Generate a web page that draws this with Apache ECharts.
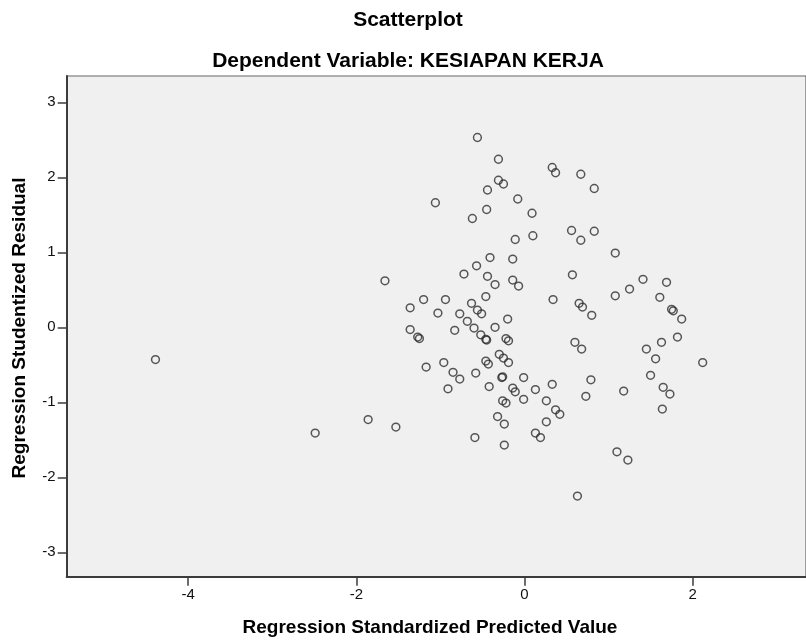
<!DOCTYPE html>
<html>
<head>
<meta charset="utf-8">
<script src="https://cdn.jsdelivr.net/npm/echarts@6/dist/echarts.min.js"></script>
<style>
html,body{margin:0;padding:0;background:#fff;}
#chart{width:806px;height:643px;}
</style>
</head>
<body>
<div id="chart"></div>
<script>
// Regression Standardized Predicted Value (x) and Regression Studentized Residual (y)
const xValues = [
  -4.39, -2.49, -1.86, -1.53, -1.66,
  -0.56, -0.31, -0.31, -0.25, -0.44, -1.06, -0.08, -0.45, -0.62, 0.09, 0.10, -0.11, 0.33, 0.37,
  0.67, 0.83, 0.56, 0.67, 0.83, 1.08,
  -0.41, -0.14, -0.57, -0.72, -0.44, -0.35, -0.14, -0.07, -0.46, -1.20, -0.94, -1.36, -1.03, -0.77,
  -0.63, -0.56, -0.51, -0.68, -0.60, -0.83, -0.52, -0.46, -0.45, -0.35, -0.20, -0.22, -0.19, -1.36,
  -1.27, -1.25, -1.17, -0.96, -0.46, -0.43, -0.30, -0.25, -0.19, 0.34,
  -0.91, -0.85, -0.77, -0.58, -0.42, -0.27, -0.26, -0.14, -0.11, -0.01, -0.01, -0.26, -0.22, 0.13,
  0.26, 0.33, 0.37, 0.42, 0.26, 0.13, 0.19, -0.32, -0.24, -0.59, -0.24,
  0.79, 0.73, 1.18, 1.50, 1.65, 1.73, 1.64, 1.10, 1.23, 0.63,
  0.57, 0.65, 0.69, 0.80, 1.08, 1.25, 1.41, 1.69, 1.61, 1.75, 1.77, 1.87, 1.82, 1.63, 1.45, 1.56,
  0.60, 0.68, 2.12
];
const yValues = [
  -0.43, -1.41, -1.23, -1.33, 0.62,
  2.53, 2.24, 1.96, 1.91, 1.83, 1.66, 1.71, 1.57, 1.45, 1.52, 1.22, 1.17, 2.13, 2.06,
  2.04, 1.85, 1.29, 1.16, 1.28, 0.99,
  0.93, 0.91, 0.82, 0.71, 0.68, 0.57, 0.63, 0.55, 0.41, 0.37, 0.37, 0.26, 0.19, 0.18,
  0.32, 0.23, 0.18, 0.08, -0.01, -0.04, -0.10, -0.16, -0.17, 0.00, 0.11, -0.15, -0.18, -0.03,
  -0.13, -0.15, -0.53, -0.47, -0.45, -0.49, -0.36, -0.41, -0.47, 0.37,
  -0.82, -0.60, -0.69, -0.61, -0.79, -0.67, -0.66, -0.81, -0.86, -0.67, -0.96, -0.98, -1.01, -0.83,
  -0.98, -0.76, -1.10, -1.16, -1.26, -1.41, -1.47, -1.19, -1.29, -1.47, -1.57,
  -0.70, -0.92, -0.85, -0.64, -0.80, -0.89, -1.09, -1.66, -1.77, -2.25,
  0.70, 0.32, 0.27, 0.16, 0.42, 0.51, 0.64, 0.60, 0.40, 0.24, 0.22, 0.11, -0.13, -0.20, -0.29, -0.42,
  -0.20, -0.29, -0.47
];
const xTicks = [-4, -2, 0, 2];
const yTicks = [-3, -2, -1, 0, 1, 2, 3];

const titleText = 'Scatterplot';
const subtitleText = 'Dependent Variable: KESIAPAN KERJA';
const xName = 'Regression Standardized Predicted Value';
const yName = 'Regression Studentized Residual';

const points = xValues.map((x, i) => [x, yValues[i]]);

const FONT = '"Liberation Sans", Arial, sans-serif';
const chart = echarts.init(document.getElementById('chart'), null, {renderer: 'canvas'});
chart.setOption({
  animation: false,
  backgroundColor: '#ffffff',
  grid: {
    left: 66.7, top: 76, right: -1, bottom: 66.3,
    show: true, backgroundColor: '#F0F0F0', borderColor: '#666', borderWidth: 1.2,
    containLabel: false
  },
  xAxis: {
    type: 'value', min: -5.446, max: 3.349,
    axisLine: {show: true, onZero: false, lineStyle: {color: '#3c3c3c', width: 2}},
    axisTick: {show: true, length: 9, lineStyle: {color: '#3c3c3c', width: 1.5}, customValues: xTicks},
    axisLabel: {show: true, margin: 11, fontSize: 15, color: '#111', fontFamily: FONT, customValues: xTicks},
    splitLine: {show: false}
  },
  yAxis: {
    type: 'value', min: -3.325, max: 3.35,
    axisLine: {show: true, onZero: false, lineStyle: {color: '#3c3c3c', width: 2}},
    axisTick: {show: true, length: 9, lineStyle: {color: '#3c3c3c', width: 1.5}, customValues: yTicks},
    axisLabel: {show: true, margin: 11, fontSize: 15, color: '#111', fontFamily: FONT, customValues: yTicks},
    splitLine: {show: false}
  },
  graphic: [
    {type: 'text', x: 408, y: 20, style: {text: titleText, font: 'bold 21px ' + FONT, fill: '#000', align: 'center', verticalAlign: 'middle'}},
    {type: 'text', x: 408, y: 61, style: {text: subtitleText, font: 'bold 21px ' + FONT, fill: '#000', align: 'center', verticalAlign: 'middle'}},
    {type: 'text', x: 430, y: 628, style: {text: xName, font: 'bold 19px ' + FONT, fill: '#000', align: 'center', verticalAlign: 'middle'}},
    {type: 'text', x: 20, y: 328, rotation: Math.PI / 2, style: {text: yName, font: 'bold 19px ' + FONT, fill: '#000', align: 'center', verticalAlign: 'middle'}}
  ],
  series: [{
    type: 'scatter',
    data: points,
    symbol: 'circle',
    symbolSize: 7.8,
    itemStyle: {color: 'rgba(0,0,0,0)', borderColor: '#2e2e2e', borderWidth: 1.5},
    emphasis: {disabled: true},
    silent: true
  }]
});
</script>
</body>
</html>
